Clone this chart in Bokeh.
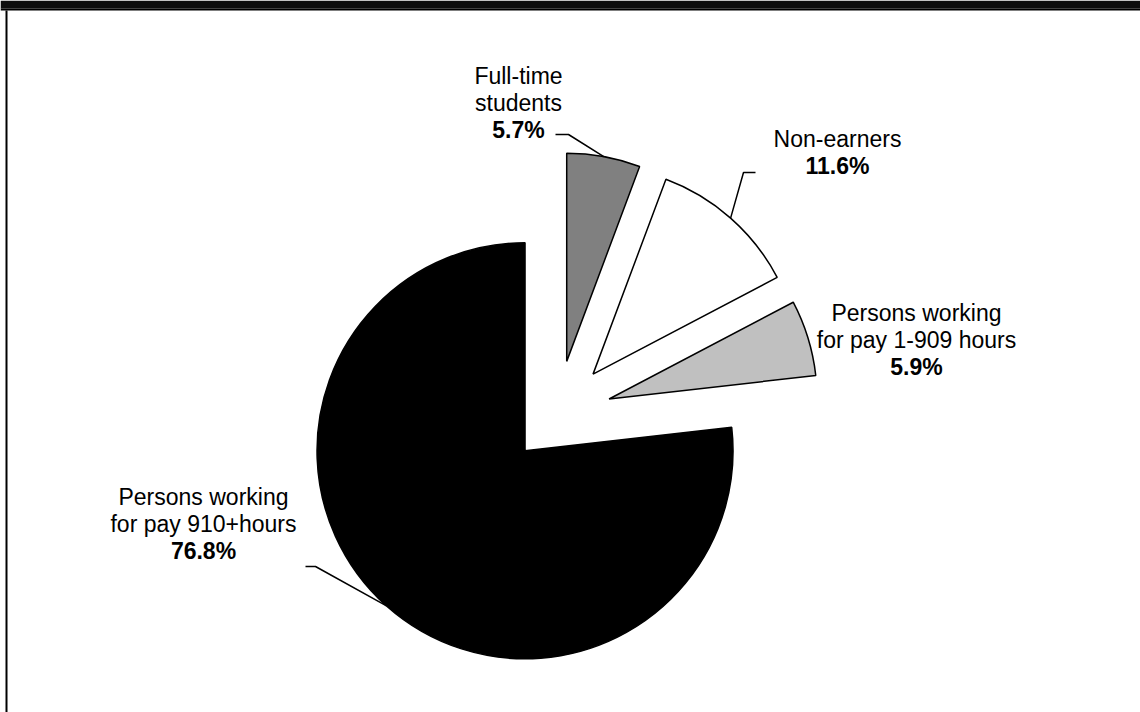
import math
from bokeh.plotting import figure
from bokeh.models import Range1d
from bokeh.core.properties import value
from bokeh.embed import file_html
from bokeh.resources import INLINE

# ---- data (clockwise from 12 o'clock) ----
categories = ["Full-time students", "Non-earners",
              "Persons working for pay 1-909 hours",
              "Persons working for pay 910+hours"]
shares = [5.7, 11.6, 5.9, 76.8]
label_lines = [["Full-time", "students"], ["Non-earners"],
               ["Persons working", "for pay 1-909 hours"],
               ["Persons working", "for pay 910+hours"]]
fills = ["#808080", "#ffffff", "#c0c0c0", "#000000"]

# ---- layout (screen pixels, y down) ----
W, H = 1140, 712
cx, cy = 556.5, 414.5
R = 208
explode = [54.5, 54.5, 54.5, 48]
label_pos = [(518, 75), (837, 138), (916, 312), (203, 496)]
line_gap = 27
leader_elbow = [[(555, 134), (568, 134)], [(755, 172), (743, 172)], None,
                [(305, 566), (315, 566)]]

def Y(y):
    return H - y

p = figure(width=W, height=H, x_range=Range1d(0, W), y_range=Range1d(0, H),
           output_backend="svg", toolbar_location=None, min_border=0)
p.axis.visible = False
p.grid.visible = False
p.outline_line_color = None
p.background_fill_color = "white"
p.border_fill_color = "white"

total = sum(shares)
cum = 90.0
for i, v in enumerate(shares):
    span = v / total * 360.0
    top = cum
    bot = cum - span
    cum = bot
    mid = math.radians((top + bot) / 2)
    vx = cx + explode[i] * math.cos(mid)
    vy = Y(cy) + explode[i] * math.sin(mid)
    p.wedge(x=[vx], y=[vy], radius=R, start_angle=[math.radians(bot)],
            end_angle=[math.radians(top)], fill_color=fills[i],
            line_color="black", line_width=1.5)
    # leader line
    if leader_elbow[i] is not None:
        ax = vx + R * math.cos(mid)
        ay = vy + R * math.sin(mid)
        (x0, y0), (x1, y1) = leader_elbow[i]
        p.line(x=[x0, x1, ax], y=[Y(y0), Y(y1), ay], line_color="black",
               line_width=1.5)
    # labels
    lx, ly = label_pos[i]
    lines = label_lines[i]
    for k, t in enumerate(lines):
        p.text(x=[lx], y=[Y(ly + k * line_gap)], text=[t],
               text_font=value("Liberation Sans"), text_font_size="23px",
               text_align="center", text_baseline="middle", text_color="black")
    p.text(x=[lx], y=[Y(ly + len(lines) * line_gap)], text=[f"{v}%"],
           text_font=value("Liberation Sans"), text_font_size="23px",
           text_font_style="bold", text_align="center",
           text_baseline="middle", text_color="black")

# title bar and frame
p.quad(left=[0], right=[W], bottom=[Y(8)], top=[H], fill_color="#0d0d0d",
       line_color=None)
p.quad(left=[0], right=[W], bottom=[Y(10)], top=[Y(8)], fill_color="black",
       line_color=None)
p.quad(left=[5], right=[7], bottom=[0], top=[Y(10)], fill_color="black",
       line_color=None)

open("out.html", "w").write(file_html(p, INLINE))
